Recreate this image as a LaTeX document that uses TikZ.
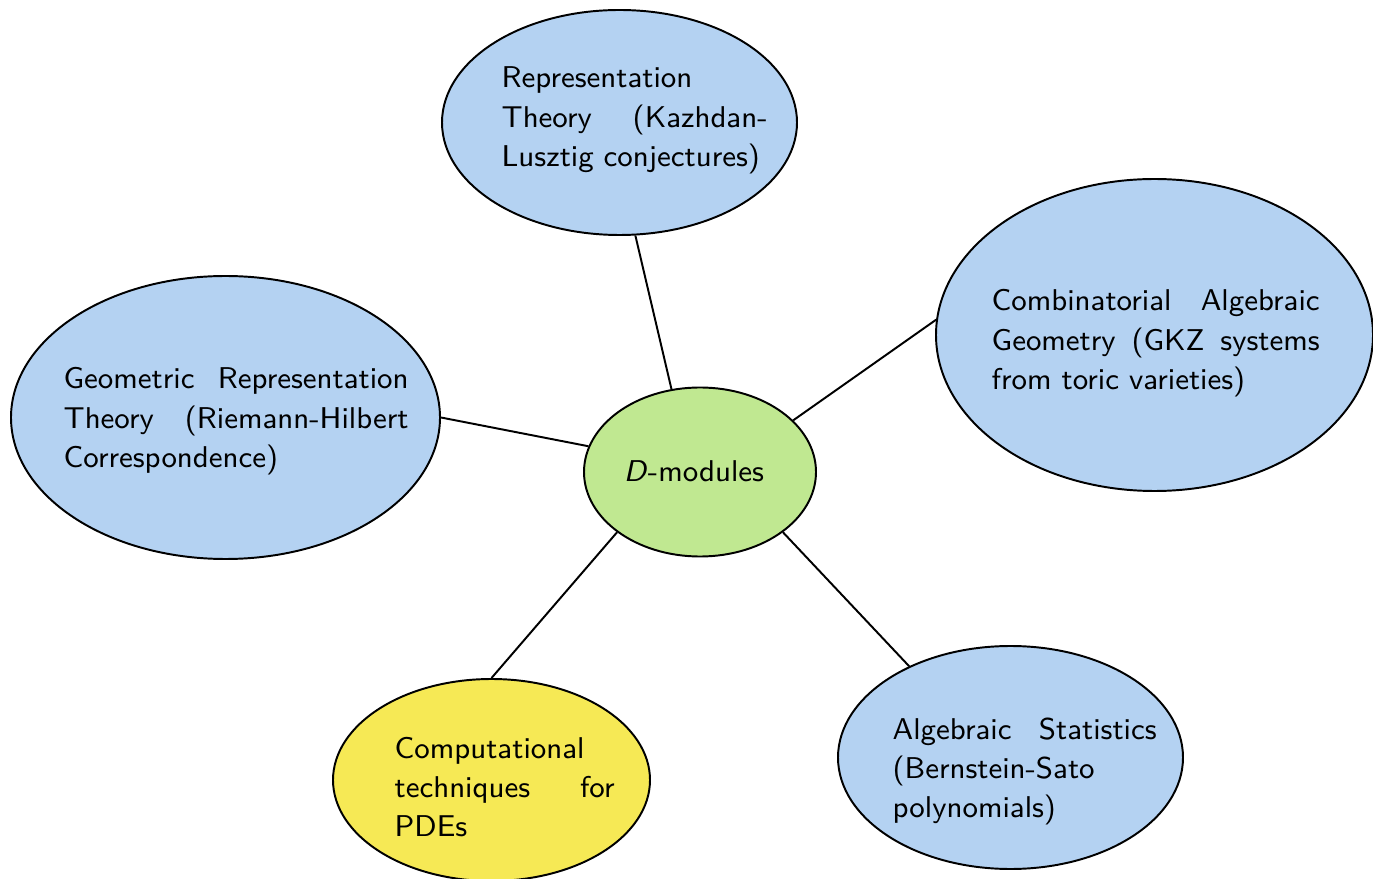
\documentclass[tikz,border=0pt]{standalone}
\usetikzlibrary{shapes.geometric}
\newdimen\pxu \pxu=0.3076pt
\definecolor{nodeblue}{RGB}{180,210,242}
\definecolor{nodegreen}{RGB}{192,232,145}
\definecolor{nodeyellow}{RGB}{246,233,85}
\tikzset{
  bubble/.style={ellipse, draw=black, line width=0.6pt, inner sep=0pt},
  txt/.style={anchor=base west, inner sep=0pt, align=left, font=\sffamily\fontsize{9.25}{12}\selectfont},
  link/.style={draw=black, line width=0.6pt},
}
\begin{document}
\begin{tikzpicture}[x=0.3076pt, y=-0.3076pt]
\useasboundingbox (0,0) rectangle (1373,879);
\clip (0,0) rectangle (1373,879);
% ellipses
\node[bubble, fill=nodeblue, minimum width=355\pxu, minimum height=225\pxu] (rep) at (619.5,122.5) {};
\node[bubble, fill=nodeblue, minimum width=437\pxu, minimum height=312\pxu] (comb) at (1154.5,335) {};
\node[bubble, fill=nodeblue, minimum width=429\pxu, minimum height=283\pxu] (geo) at (225.5,417.5) {};
\node[bubble, fill=nodegreen, minimum width=232\pxu, minimum height=169\pxu] (dmod) at (700,472) {};
\node[bubble, fill=nodeyellow, minimum width=317\pxu, minimum height=202\pxu] (comp) at (491.5,780) {};
\node[bubble, fill=nodeblue, minimum width=345\pxu, minimum height=223\pxu] (stat) at (1010.5,757.5) {};
% connectors
\path[link] (dmod.109.3) -- (rep.278.3);
\path[link] (dmod.29.2) -- (comb.176.9);
\path[link] (dmod.167.3) -- (geo.0);
\path[link] (dmod.216.6) -- (comp.90);
\path[link] (dmod.324.3) -- (stat.138);
% texts
\node[txt, text width=266\pxu] (repT) at (501,88) {Representation\\Theory\hfill(Kazhdan-\\\mbox{Lusztig conjectures)}};
\node[txt, text width=328\pxu] (combT) at (991,311) {Combinatorial\hfill Algebraic\\Geometry\hfill(GKZ\hfill systems\\\mbox{from toric varieties)}};
\node[txt, text width=345\pxu] (geoT) at (63,389) {Geometric\hfill Representation\\Theory\hfill(Riemann-Hilbert\\Correspondence)};
\node[anchor=base, inner sep=0pt, font=\sffamily\fontsize{9.25}{12}\selectfont] (dmodT) at (694,482) {\textit{D}-modules};
\node[txt, text width=220\pxu] (compT) at (394,758) {Computational\\techniques\hfill for\\PDEs};
\node[txt, text width=264\pxu] (statT) at (892,739) {Algebraic\hfill Statistics\\(Bernstein-Sato\\polynomials)};
\end{tikzpicture}
\end{document}
